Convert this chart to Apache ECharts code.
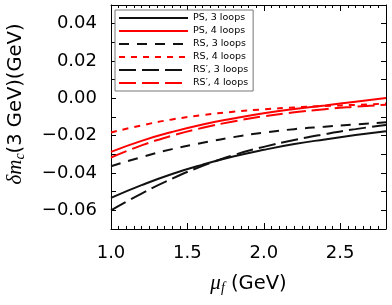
<!DOCTYPE html>
<html><head><meta charset="utf-8">
<script src="https://cdn.jsdelivr.net/npm/echarts@6/dist/echarts.min.js"></script>
<style>html,body{margin:0;padding:0;background:#fff}#c{width:392px;height:305px}</style>
</head><body><div id="c"></div>
<script>
var muF = [1.0, 1.2, 1.4, 1.6, 1.8, 2.0, 2.2, 2.4, 2.6, 2.8];
var ps3  = [-0.0533, -0.0465, -0.0405, -0.0355, -0.0312, -0.0276, -0.0245, -0.0220, -0.0197, -0.0176];
var ps4  = [-0.0287, -0.0228, -0.0180, -0.0140, -0.0108, -0.0080, -0.0057, -0.0038, -0.0018, 0.0002];
var rs3  = [-0.0364, -0.0315, -0.0272, -0.0238, -0.0208, -0.0184, -0.0165, -0.0152, -0.0140, -0.0128];
var rs4  = [-0.0183, -0.0145, -0.0113, -0.0090, -0.0072, -0.0059, -0.0049, -0.0041, -0.0035, -0.0028];
var rsp3 = [-0.0600, -0.0510, -0.0430, -0.0362, -0.0305, -0.0260, -0.0223, -0.0192, -0.0165, -0.0143];
var rsp4 = [-0.0317, -0.0252, -0.0200, -0.0158, -0.0124, -0.0096, -0.0075, -0.0058, -0.0045, -0.0034];
var seriesNames = ['PS, 3 loops', 'PS, 4 loops', 'RS, 3 loops', 'RS, 4 loops', 'RS\u2032, 3 loops', 'RS\u2032, 4 loops'];

function pairs(ys){ return muF.map(function(x,i){ return [x, ys[i]]; }); }
var BLACK = '#111', RED = '#ff0000';
function mk(name, ys, color, dash){
  return {
    name: name, type: 'line', data: pairs(ys), smooth: true, symbol: 'none',
    lineStyle: { color: color, width: 2, type: dash },
    itemStyle: { color: color }, xAxisIndex: 0, yAxisIndex: 0, z: 3
  };
}
var FONT = 'DejaVu Sans';
function fmtY(v){
  var k = Math.round(v * 100);
  if (k % 2 !== 0) return '';
  var s = Math.abs(v).toFixed(2);
  return (k < 0 ? '\u2212' : '') + s;
}
function fmtX(v){
  var k = Math.round(v * 10);
  if (k % 5 !== 0) return '';
  return v.toFixed(1);
}
var nameRich = {
  i: { fontFamily: 'Liberation Serif', fontStyle: 'italic', fontSize: 21, color: '#000' },
  s: { fontFamily: 'Liberation Serif', fontStyle: 'italic', fontSize: 14, color: '#000', padding: [9, 0, 0, 0] },
  n: { fontFamily: FONT, fontSize: 19.5, color: '#000' }
};
var chart = echarts.init(document.getElementById('c'), null, {renderer: 'canvas'});
chart.setOption({
  animation: false,
  backgroundColor: '#fff',
  grid: { left: 111, right: 6, top: 5, bottom: 76, containLabel: false, outerBoundsMode: 'none' },
  legend: {
    orient: 'vertical', left: 115, top: 10,
    padding: [3, 5, 3, 3],
    itemWidth: 69, itemHeight: 10, itemGap: 3,
    itemStyle: { color: 'rgba(0,0,0,0)', borderColor: 'rgba(0,0,0,0)', borderWidth: 0 },
    borderColor: '#777', borderWidth: 1, borderRadius: 0,
    backgroundColor: '#fff',
    textStyle: { fontFamily: FONT, fontSize: 9.5, color: '#000' },
    data: seriesNames
  },
  xAxis: [{
    type: 'value', min: 1.0, max: 2.8, interval: 0.5, position: 'bottom',
    axisLine: { show: true, onZero: false, lineStyle: { color: '#000', width: 1 } },
    axisTick: { show: true, inside: true, length: 6, lineStyle: { color: '#000' } },
    minorTick: { show: true, splitNumber: 10, length: 3, lineStyle: { color: '#000' } },
    splitLine: { show: false },
    axisLabel: { fontFamily: FONT, fontSize: 18, color: '#000', margin: 15, formatter: fmtX, showMaxLabel: false },
    name: '{i|\u03bc}{s|f}{n| (GeV)}', nameLocation: 'middle', nameGap: 43,
    nameTextStyle: { fontFamily: FONT, fontSize: 19, color: '#000', rich: nameRich }
  }, {
    type: 'value', min: 1.0, max: 2.8, interval: 0.5, position: 'top',
    axisLine: { show: true, onZero: false, lineStyle: { color: '#000', width: 1 } },
    axisTick: { show: true, inside: true, length: 6, lineStyle: { color: '#000' } },
    minorTick: { show: true, splitNumber: 10, length: 3, lineStyle: { color: '#000' } },
    splitLine: { show: false }, axisLabel: { show: false }
  }],
  yAxis: [{
    type: 'value', min: -0.07, max: 0.05, interval: 0.01, position: 'left',
    axisLine: { show: true, onZero: false, lineStyle: { color: '#000', width: 1 } },
    axisTick: { show: true, inside: true, length: 5, lineStyle: { color: '#000' } },
    splitLine: { show: false },
    axisLabel: { fontFamily: FONT, fontSize: 18, color: '#000', margin: 14, formatter: fmtY },
    name: '{i|\u03b4m}{s|c}{n|(3 GeV)(GeV)}', nameLocation: 'middle', nameGap: 84,
    nameTextStyle: { fontFamily: FONT, fontSize: 19, color: '#000', rich: nameRich, padding: [0, 0, 0, 26] }
  }, {
    type: 'value', min: -0.07, max: 0.05, interval: 0.01, position: 'right',
    axisLine: { show: true, onZero: false, lineStyle: { color: '#000', width: 1 } },
    axisTick: { show: true, inside: true, length: 5, lineStyle: { color: '#000' } },
    splitLine: { show: false }, axisLabel: { show: false }
  }],
  series: [
    mk(seriesNames[0], ps3, BLACK, 'solid'),
    mk(seriesNames[1], ps4, RED, 'solid'),
    mk(seriesNames[2], rs3, BLACK, [10, 8]),
    mk(seriesNames[3], rs4, RED, [6, 6]),
    mk(seriesNames[4], rsp3, BLACK, [17, 6]),
    mk(seriesNames[5], rsp4, RED, [17, 6])
  ]
});
</script></body></html>
